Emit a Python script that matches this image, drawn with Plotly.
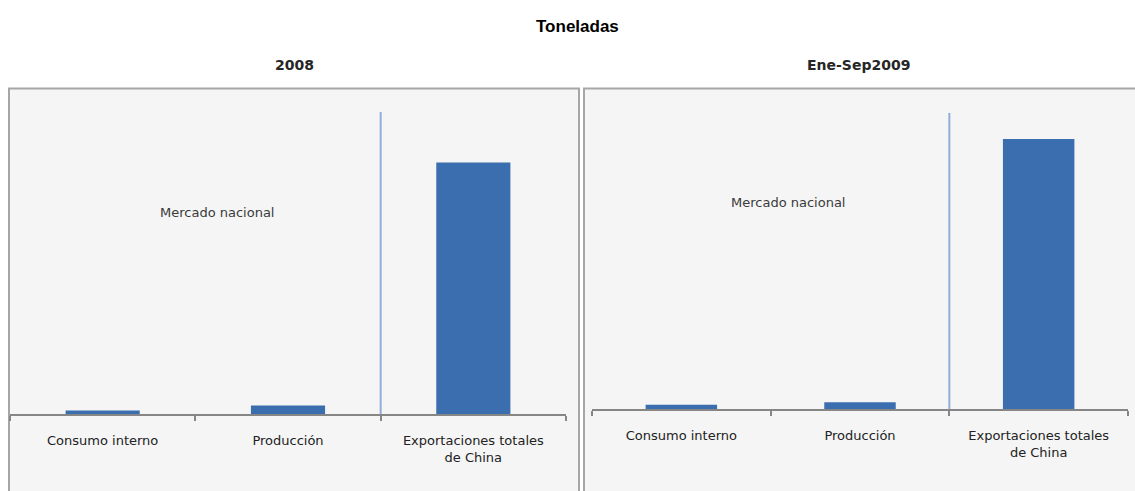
import plotly.graph_objects as go

# Categories and values (toneladas, relative scale)
categories = ["Consumo interno", "Producción", "Exportaciones totales de China"]
tick_labels = ["Consumo interno", "Producción", "Exportaciones totales<br>de China"]
values_2008 = [3.5, 8.5, 251.5]
values_2009 = [4.3, 6.7, 270.0]
panel_titles = ["2008", "Ene-Sep2009"]
separator_label = "Mercado nacional"

W, H = 1135, 491
BAR = "#3b6eae"
AXIS = "#868686"
LABEL_FONT = dict(family="DejaVu Sans", size=13, color="#222222")


def px(x):
    return x / W


def py(y):
    return (H - y) / H


fig = go.Figure()

fig.add_trace(go.Bar(x=categories, y=values_2008, width=0.4, marker=dict(color=BAR, line=dict(width=0)),
                     xaxis="x", yaxis="y", showlegend=False, hoverinfo="x+y"))
fig.add_trace(go.Bar(x=categories, y=values_2009, width=0.4, marker=dict(color=BAR, line=dict(width=0)),
                     xaxis="x2", yaxis="y2", showlegend=False, hoverinfo="x+y"))

xcommon = dict(type="category", categoryorder="array", categoryarray=categories,
               tickmode="array", tickvals=categories, ticktext=tick_labels,
               range=[-0.5, 2.5], showline=True, linecolor=AXIS, linewidth=1.5,
               ticks="outside", tickson="boundaries", ticklen=5, tickcolor=AXIS, tickwidth=1.5,
               showgrid=False, zeroline=False, tickfont=LABEL_FONT, ticklabelstandoff=14,
               fixedrange=True)
ycommon = dict(visible=False, showgrid=False, zeroline=False, fixedrange=True)

fig.update_layout(
    width=W, height=H,
    margin=dict(l=0, r=0, t=0, b=0),
    paper_bgcolor="white",
    plot_bgcolor="rgba(0,0,0,0)",
    bargap=0.6,
    xaxis=dict(domain=[px(10), px(566)], anchor="y", **xcommon),
    yaxis=dict(domain=[py(414), py(112)], range=[0, 302], anchor="x", **ycommon),
    xaxis2=dict(domain=[px(592), px(1128)], anchor="y2", **xcommon),
    yaxis2=dict(domain=[py(409), py(112.7)], range=[0, 296.3], anchor="x2", **ycommon),
)

# Panel frames
for x0, x1 in [(9, 579), (584, 1140)]:
    fig.add_shape(type="rect", xref="paper", yref="paper",
                  x0=px(x0), x1=px(x1), y0=-0.05, y1=py(88.5),
                  fillcolor="#f5f5f5", line=dict(color="#a6a6a6", width=2), layer="below")

# Separator between domestic market and exports
for xr, yr, top in [("x", "y", 302), ("x2", "y2", 296.3)]:
    fig.add_shape(type="line", xref=xr, yref=yr, x0=1.5, x1=1.5, y0=0, y1=top,
                  line=dict(color="#8fafd8", width=2))

# Titles
fig.add_annotation(text="<b>Toneladas</b>", xref="paper", yref="paper", x=px(577), y=py(27),
                   xanchor="center", yanchor="middle", showarrow=False,
                   font=dict(family="Liberation Sans", size=17, color="#000000"))
for t, xc in zip(panel_titles, [294, 858]):
    fig.add_annotation(text="<b>" + t + "</b>", xref="paper", yref="paper", x=px(xc), y=py(65),
                       xanchor="center", yanchor="middle", showarrow=False,
                       font=dict(family="DejaVu Sans", size=14, color="#262626"))

for xc, yc in [(217, 212), (788, 202)]:
    fig.add_annotation(text=separator_label, xref="paper", yref="paper", x=px(xc), y=py(yc),
                       xanchor="center", yanchor="middle", showarrow=False,
                       font=dict(family="DejaVu Sans", size=13, color="#3a3a3a"))

fig.write_html("out.html")
